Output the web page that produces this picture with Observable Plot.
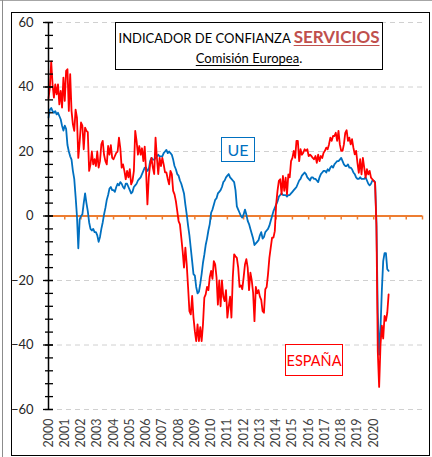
<!DOCTYPE html>
<html>
<head>
<meta charset="utf-8">
<script src="https://cdn.jsdelivr.net/npm/d3@7"></script>
<script src="https://cdn.jsdelivr.net/npm/@observablehq/plot@0.6"></script>
<style>
  html, body { margin: 0; padding: 0; background: #fff; }
  #wrap { position: relative; width: 432px; height: 457px; overflow: hidden; font-family: Lato, "Open Sans", sans-serif; }
  #wrap svg { position: absolute; left: 0; top: 0; }
  .line-top { position: absolute; left: 0; top: 0; width: 432px; height: 1px; background: #a6a6a6; }
  .line-left { position: absolute; left: 2px; top: 0; width: 1px; height: 457px; background: #8c8c8c; }
  .frame { position: absolute; left: 11px; top: 12px; width: 417px; height: 442px; border: 1px solid #000; }
  .title { position: absolute; left: 115px; top: 22px; width: 266px; height: 46px; border: 1px solid #000; background: #fff; color: #000; }
  .t1 { position: absolute; left: 0; top: 4px; width: 100%; text-align: center; font-size: 13px; line-height: 20px; white-space: nowrap; }
  .t1 .serv { font-size: 17px; font-weight: bold; color: #C0504D; text-decoration: underline; text-decoration-thickness: 1px; text-underline-offset: 2px; }
  .t2 { position: absolute; left: 0; top: 27px; width: 100%; text-align: center; font-size: 13px; line-height: 16px; white-space: nowrap; }
  .t2 u { text-decoration-thickness: 1px; text-underline-offset: 2px; }
  .lab { position: absolute; display: flex; align-items: center; justify-content: center; background: #fff; box-sizing: border-box; }
  .ue { left: 221px; top: 137px; width: 34px; height: 25px; border: 1.5px solid #0070C0; color: #0070C0; font-size: 16px; }
  .es { left: 285px; top: 344px; width: 58px; height: 32px; border: 1px solid #FF0000; color: #FF0000; font-size: 14.5px; }
</style>
</head>
<body>
<div id="wrap"></div>
<script>
// ---- Data (monthly, Jan 2000 - Dec 2020) ----
const years = d3.range(2000, 2021);

// ESPAÑA: services confidence indicator, one row of 12 months per year
const espana = [
  36.5, 39.8, 47.9, 40.8, 36.7, 40.8, 37.7, 40.8, 34.6, 38.8, 33.6, 42.9,
  35.7, 45.0, 45.5, 32.6, 44.0, 32.6, 28.4, 26.4, 33.0, 30.5, 18.0, 23.0,
  29.0, 28.0, 20.7, 27.4, 26.4, 26.0, 14.0, 16.0, 20.0, 16.0, 17.6, 15.5,
  20.0, 15.0, 17.0, 22.2, 23.3, 19.0, 17.0, 16.0, 21.7, 19.0, 22.0, 18.0,
  17.6, 18.6, 19.6, 20.0, 24.3, 21.0, 15.0, 16.0, 14.0, 11.4, 14.0, 12.0,
  14.5, 9.8, 10.9, 14.0, 26.4, 23.3, 19.0, 21.7, 19.0, 21.0, 17.0, 21.5,
  14.0, 3.6, 12.0, 16.0, 18.0, 15.0, 13.0, 24.3, 18.0, 13.0, 18.0, 15.5,
  18.0, 16.0, 13.5, 13.5, 11.5, 9.8, 14.0, 13.0, 7.8, 6.7, 4.6, 1.6,
  -1.6, -2.6, -6.7, -10.9, -16.0, -9.8, -15.0, -22.0, -29.5, -30.5, -24.8, -31.5,
  -35.7, -38.8, -33.6, -38.8, -34.5, -38.8, -33.6, -25.3, -24.3, -22.0, -23.0, -19.0,
  -17.0, -19.5, -14.0, -15.0, -19.0, -27.5, -20.0, -28.0, -20.0, -25.0, -26.4, -23.0,
  -31.5, -28.0, -25.0, -31.5, -19.0, -11.9, -12.5, -13.0, -16.0, -22.0, -21.5, -22.7,
  -19.0, -15.0, -13.4, -16.0, -23.0, -17.6, -20.0, -23.8, -32.6, -22.0, -24.0, -23.0,
  -25.0, -26.0, -29.5, -30.0, -22.7, -22.0, -18.0, -13.0, -9.8, -6.7, -6.7, -4.7,
  3.6, 7.8, 10.9, 11.4, 6.7, 12.4, 7.8, 11.9, 6.7, 12.9, 12.0, 17.0,
  18.0, 20.2, 18.0, 23.3, 23.3, 17.0, 20.7, 19.0, 19.6, 20.7, 20.2, 20.7,
  18.6, 19.0, 18.6, 18.0, 17.6, 18.6, 16.5, 19.0, 17.0, 18.6, 18.0, 19.6,
  20.2, 21.2, 20.7, 22.2, 24.3, 23.3, 24.8, 24.8, 25.8, 23.3, 26.4, 22.2,
  20.2, 20.2, 22.2, 25.8, 26.6, 23.3, 24.3, 22.2, 23.8, 21.2, 19.1, 20.2,
  16.5, 13.4, 17.6, 12.9, 18.0, 15.0, 11.9, 14.5, 12.9, 14.0, 11.9, 11.4,
  10.9, 10.3, -3.0, -42.0, -53.0, -40.0, -34.0, -38.0, -31.0, -32.5, -30.0, -24.3
];

// UE: services confidence indicator, one row of 12 months per year
const ue = [
  30.5, 33.0, 33.5, 32.5, 32.0, 32.5, 31.5, 32.0, 31.0, 30.0, 28.0, 26.5,
  28.0, 27.0, 22.0, 20.0, 18.5, 17.5, 14.0, 11.5, 6.0, 0.0, -10.0, -1.0,
  0.0, 0.5, 4.0, 7.0, 4.0, 1.5, -2.0, -4.0, -4.5, -4.0, -5.0, -5.0,
  -6.0, -8.0, -6.5, -4.0, -2.0, 0.5, 2.5, 5.0, 6.5, 8.5, 9.0, 8.0,
  8.0, 7.5, 9.0, 10.0, 9.5, 10.5, 10.0, 9.0, 8.5, 10.0, 10.0, 9.0,
  8.0, 7.0, 7.5, 9.0, 9.5, 10.0, 11.0, 11.5, 12.0, 13.0, 14.0, 15.0,
  15.0, 14.0, 14.5, 17.0, 18.0, 17.5, 17.5, 18.0, 18.5, 19.0, 18.5, 18.5,
  18.5, 19.5, 20.0, 20.5, 19.5, 20.0, 19.5, 19.0, 17.5, 15.5, 14.5, 13.0,
  12.5, 11.0, 10.0, 8.5, 7.0, 3.5, 0.5, -3.0, -6.0, -10.0, -14.0, -18.0,
  -18.5, -22.0, -24.0, -23.5, -21.0, -18.0, -14.5, -12.0, -9.0, -7.0, -4.5, -2.5,
  1.0, 2.0, 3.5, 5.0, 5.5, 7.0, 7.5, 8.0, 9.0, 10.5, 11.0, 12.0,
  12.5, 13.0, 12.0, 11.5, 11.0, 10.5, 8.0, 3.0, 2.0, 1.0, 0.0, -0.5,
  0.5, 2.0, 0.5, -1.5, -2.5, -4.0, -5.5, -7.0, -9.0, -8.5, -8.0, -7.5,
  -6.0, -5.0, -7.0, -6.5, -5.0, -4.5, -4.0, -3.0, -1.5, 0.0, 1.5, 2.5,
  3.5, 4.5, 6.0, 6.5, 7.0, 6.5, 6.5, 6.5, 6.0, 6.5, 6.5, 7.0,
  7.5, 8.0, 8.5, 9.0, 10.0, 11.0, 11.5, 12.5, 13.0, 13.5, 13.0, 12.0,
  11.5, 11.0, 12.0, 12.0, 11.5, 11.5, 11.0, 10.5, 12.0, 13.0, 13.5, 14.0,
  14.0, 13.5, 14.5, 14.0, 15.0, 15.5, 15.0, 16.0, 16.5, 17.0, 17.0, 17.5,
  18.0, 17.0, 16.0, 15.5, 15.5, 16.0, 15.0, 15.0, 14.5, 13.5, 13.0, 12.0,
  11.5, 11.5, 12.0, 11.5, 11.5, 11.5, 12.0, 11.0, 10.0, 9.5, 10.0, 11.0,
  11.0, 10.5, -2.0, -30.0, -43.0, -35.0, -23.0, -14.0, -11.5, -11.5, -16.5, -17.0
];

// Axis ticks
const xTickLabels = d3.range(2000, 2021);   // year labels
const xAxisTicks = d3.range(2001, 2024);    // small ticks on the zero line
const yTicks = [-60, -40, -20, 0, 20, 40, 60];
const yMinorTicks = d3.range(-60, 61, 4);
const yGrid = [-60, -40, -20, 20, 40, 60];

// ---- Build table ----
const rows = [];
years.forEach((yr, i) => {
  for (let m = 0; m < 12; m++) {
    rows.push({t: yr + m / 12, espana: espana[i * 12 + m], ue: ue[i * 12 + m]});
  }
});

const chart = Plot.plot({
  width: 432,
  height: 457,
  marginLeft: 48,
  marginRight: 10,
  marginTop: 22,
  marginBottom: 48,
  x: {domain: [2000, 2023], label: null},
  y: {domain: [-60, 60], label: null},
  style: {fontFamily: "Lato, 'Open Sans', sans-serif", background: "transparent", overflow: "visible"},
  marks: [
    Plot.gridY(yGrid, {stroke: "#d0d0d0", strokeOpacity: 1, strokeWidth: 1, strokeDasharray: "5,4"}),
    Plot.ruleY([0], {stroke: "#ED7D31", strokeWidth: 2}),
    Plot.ruleX(xAxisTicks, {x: d => d, y1: 0, y2: 0, insetBottom: -4, stroke: "#ED7D31", strokeWidth: 1.5}),
    Plot.line(rows, {x: "t", y: "ue", stroke: "#0070C0", strokeWidth: 1.8}),
    Plot.line(rows, {x: "t", y: "espana", stroke: "#FF0000", strokeWidth: 1.8}),
    Plot.ruleX([2000], {stroke: "#000", strokeWidth: 1.5}),
    Plot.axisY(yMinorTicks, {tickSize: 8, dx: 5, fill: "none", stroke: "#000", strokeWidth: 1.3, label: null}),
    Plot.axisY(yTicks, {tickSize: 10, dx: 5, fill: "none", stroke: "#000", strokeWidth: 1.3, label: null}),
    Plot.axisY(yTicks, {tickSize: 0, tickPadding: 15, fontSize: 13, fill: "#262626", label: null}),
    Plot.axisX(xTickLabels, {tickSize: 0, tickPadding: 9, tickRotate: -90, fontSize: 12.5, fill: "#404040", tickFormat: d3.format("d"), label: null})
  ]
});

const wrap = document.getElementById("wrap");
wrap.innerHTML = `
  <div class="line-top"></div>
  <div class="line-left"></div>
  <div class="frame"></div>`;
wrap.appendChild(chart);
wrap.insertAdjacentHTML("beforeend", `
  <div class="title">
    <div class="t1">INDICADOR DE CONFIANZA <span class="serv">SERVICIOS</span></div>
    <div class="t2"><u>Comisión Europea</u>.</div>
  </div>
  <div class="lab ue">UE</div>
  <div class="lab es">ESPAÑA</div>`);
</script>
</body>
</html>
